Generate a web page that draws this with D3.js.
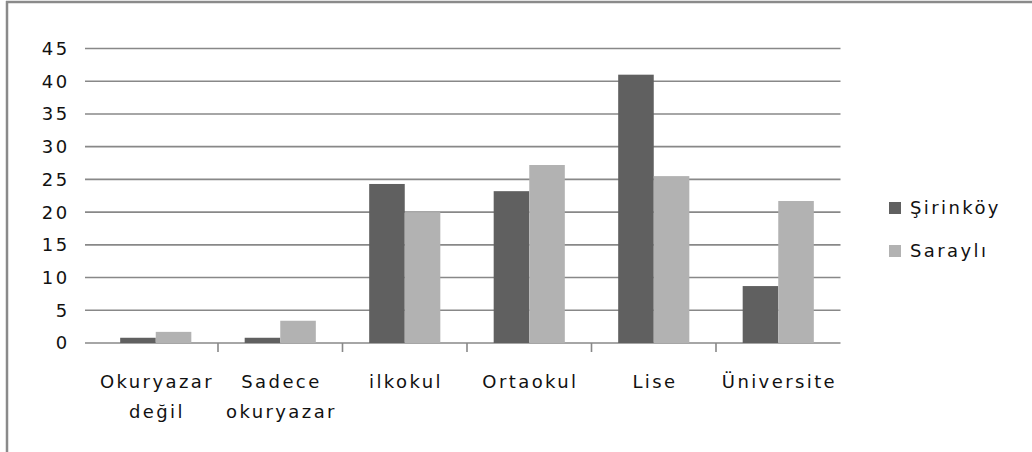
<!DOCTYPE html>
<html>
<head>
<meta charset="utf-8">
<script src="https://cdnjs.cloudflare.com/ajax/libs/d3/7.8.5/d3.min.js"></script>
<style>
  body { margin: 0; background: #fff; }
  text { font-family: "DejaVu Sans", sans-serif; font-size: 18px; fill: #111; letter-spacing: 2.4px; }
</style>
</head>
<body>
<div id="chart"></div>
<script>
const categories = [["Okuryazar", "değil"], ["Sadece", "okuryazar"], ["ilkokul"], ["Ortaokul"], ["Lise"], ["Üniversite"]]
const seriesNames = ["Şirinköy", "Saraylı"]
const sirinkoy = [0.8, 0.8, 24.3, 23.2, 41, 8.7]
const sarayli = [1.7, 3.4, 20, 27.2, 25.5, 21.7]
const yTicks = [0, 5, 10, 15, 20, 25, 30, 35, 40, 45]
const colors = ["#606060", "#b2b2b2"]

const width = 1032, height = 452
const catKeys = categories.map(c => c.join(" "))

const svg = d3.select('#chart').append('svg').attr('width', width).attr('height', height)

// outer frame (only top and left visible)
svg.append('line').attr('x1', 7).attr('x2', 7).attr('y1', 1).attr('y2', height)
  .attr('stroke', '#8a8a8a').attr('stroke-width', 2.5)
svg.append('line').attr('x1', 6).attr('x2', width).attr('y1', 2).attr('y2', 2)
  .attr('stroke', '#8a8a8a').attr('stroke-width', 2.5)

const x0 = d3.scaleBand().domain(catKeys).range([93.5, 840.5])
const x1 = d3.scaleBand().domain(seriesNames).range([0, x0.bandwidth()]).paddingOuter(0.75)
const y = d3.scaleLinear().domain([0, 45]).range([343, 48.5])

// gridlines (with the little outside tick)
svg.append('g').selectAll('line').data(yTicks).join('line')
  .attr('x1', 85).attr('x2', 840.5)
  .attr('y1', d => y(d)).attr('y2', d => y(d))
  .attr('stroke', '#888').attr('stroke-width', 1.6)

svg.append('g').selectAll('text').data(yTicks).join('text')
  .attr('x', 69.5).attr('y', d => y(d)).attr('dy', '0.36em')
  .attr('text-anchor', 'end').text(d => d)

// category ticks between groups
svg.append('g').selectAll('line').data(catKeys.slice(1)).join('line')
  .attr('x1', d => x0(d)).attr('x2', d => x0(d))
  .attr('y1', 343).attr('y2', 352)
  .attr('stroke', '#888').attr('stroke-width', 1.6)

const series = [sirinkoy, sarayli]
const groups = svg.append('g').selectAll('g').data(seriesNames).join('g')
  .attr('fill', (d, i) => colors[i])
groups.selectAll('rect').data((d, i) => series[i].map((v, j) => ({ s: d, c: catKeys[j], v })))
  .join('rect')
  .attr('x', d => x0(d.c) + x1(d.s))
  .attr('width', x1.bandwidth())
  .attr('y', d => y(d.v))
  .attr('height', d => y(0) - y(d.v))

// category labels
const labels = svg.append('g').selectAll('text').data(categories).join('text')
  .attr('text-anchor', 'middle')
  .attr('transform', (d, i) => `translate(${x0(catKeys[i]) + x0.bandwidth() / 2 + 1.2},388)`)
labels.selectAll('tspan').data(d => d).join('tspan')
  .attr('x', 0).attr('y', (d, i) => i * 30).text(d => d)

// legend
const legend = svg.append('g').selectAll('g').data(seriesNames).join('g')
  .attr('transform', (d, i) => `translate(889,${202 + i * 43})`)
legend.append('rect').attr('width', 12).attr('height', 12).attr('fill', (d, i) => colors[i])
legend.append('text').attr('x', 21).attr('y', 6).attr('dy', '0.36em').text(d => d)
</script>
</body>
</html>
